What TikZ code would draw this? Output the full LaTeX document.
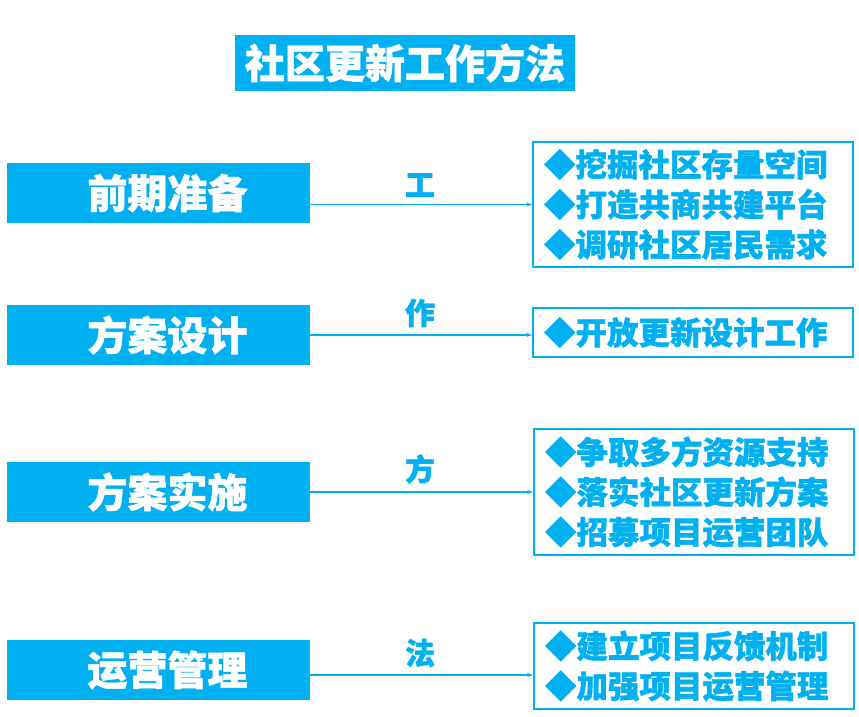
\documentclass[tikz,border=0pt]{standalone}
\usepackage{fontspec}
\setmainfont{Noto Sans CJK SC}[BoldFeatures={FakeBold=1.3}]
\usetikzlibrary{arrows.meta}
\definecolor{pblue}{HTML}{00B0F0}
\tikzset{
  titlebox/.style={fill=pblue, text=white, font=\bfseries\fontsize{40}{44}\selectfont, inner sep=0pt, minimum width=340pt, minimum height=56pt},
  stagebox/.style={fill=pblue, text=white, font=\bfseries\fontsize{40}{44}\selectfont, inner sep=0pt, minimum width=303pt, minimum height=60pt},
  stagetext/.style={text=white, font=\bfseries\fontsize{40}{44}\selectfont, inner sep=0pt},
  itembox/.style={draw=pblue, line width=1.5pt, text=pblue, font=\bfseries\fontsize{31.5}{40}\selectfont, align=left, text width=298pt, inner xsep=11pt, inner ysep=0pt, minimum width=320pt},
  steplabel/.style={text=pblue, font=\bfseries\fontsize{30}{32}\selectfont, inner sep=0pt},
  arr/.style={draw=pblue, line width=1.2pt, -{Stealth[length=6pt,width=4pt]}}
}
\begin{document}
\begin{tikzpicture}[x=1pt,y=-1pt]
\useasboundingbox (0,0) rectangle (859,716);
\node[titlebox] (title) at (405,63) {社区更新工作方法};

\node[stagebox] (l1) at (158.5,193) {};
\node[stagebox] (l2) at (158.5,335) {};
\node[stagebox] (l3) at (158.5,492) {};
\node[stagebox] (l4) at (158.5,670) {};
\node[stagetext] (t1) at ([xshift=9pt]l1.center) {前期准备};
\node[stagetext] (t2) at ([xshift=9pt]l2.center) {方案设计};
\node[stagetext] (t3) at ([xshift=9pt]l3.center) {方案实施};
\node[stagetext] (t4) at ([xshift=9pt]l4.center) {运营管理};

\node[itembox, minimum height=125pt] (r1) at (693,204.5) {◆挖掘社区存量空间\\◆打造共商共建平台\\◆调研社区居民需求};
\node[itembox, minimum height=49pt] (r2) at (693,332.5) {◆开放更新设计工作};
\node[itembox, minimum height=126pt] (r3) at (694,492) {◆争取多方资源支持\\◆落实社区更新方案\\◆招募项目运营团队};
\node[itembox, minimum height=86pt] (r4) at (694,666) {◆建立项目反馈机制\\◆加强项目运营管理};

\node[steplabel] (s1) at (420,185) {工};
\node[steplabel] (s2) at (420,313) {作};
\node[steplabel] (s3) at (420,469) {方};
\node[steplabel] (s4) at (420,653) {法};

\draw[arr] (l1.east |- r1.west) -- (r1.west);
\draw[arr] (l2.east |- 0,335) -- (r2.west |- 0,335);
\draw[arr] (l3.east |- r3.west) -- (r3.west);
\draw[arr] (l4.east |- 0,675) -- (r4.west |- 0,675);
\end{tikzpicture}
\end{document}
